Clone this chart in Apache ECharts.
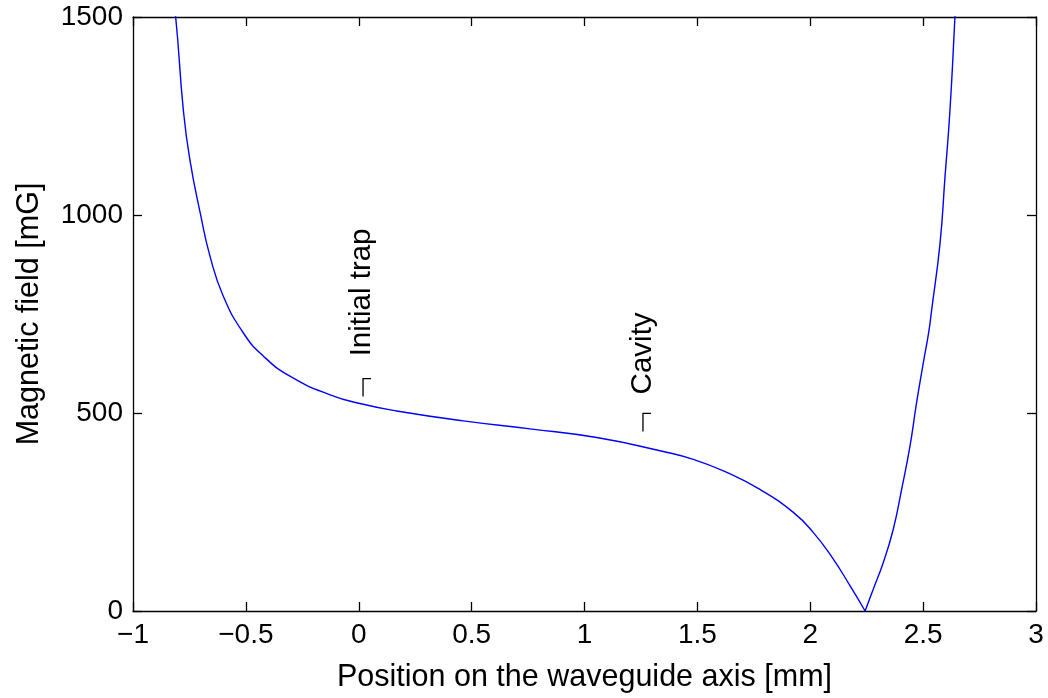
<!DOCTYPE html>
<html>
<head>
<meta charset="utf-8">
<script src="https://cdn.jsdelivr.net/npm/echarts@6/dist/echarts.min.js"></script>
<style>
html,body{margin:0;padding:0;background:#fff;}
#c{width:1048px;height:698px;}
</style>
</head>
<body>
<div id="c"></div>
<script>
// Left branch of |B| (position in mm, field in mG), down to the zero crossing
var leftX = [-0.83, -0.811, -0.777, -0.748, -0.700, -0.659, -0.600, -0.511, -0.423, -0.305, -0.127, 0.020, 0.168, 0.463, 0.759, 1.054, 1.340, 1.482, 1.630, 1.777, 1.925, 2.014, 2.102, 2.176, 2.243];
var leftY = [1570, 1500, 1265, 1139, 999, 896, 795, 702, 644, 593, 546, 522, 505, 480, 460, 438, 404, 383, 350, 307, 249, 198, 131, 64, 0];
// Right branch from the zero crossing upward
var rightX = [2.243, 2.279, 2.324, 2.368, 2.405, 2.442, 2.471, 2.501, 2.525, 2.538, 2.575, 2.597, 2.619, 2.641, 2.650];
var rightY = [0, 55, 123, 207, 308, 417, 526, 627, 705, 761, 929, 1097, 1265, 1500, 1600];
// Annotations (rotated text, baseline start point in data coords)
var annoText = ['Initial trap', 'Cavity'];
var annoX = [0.014, 1.259];
var annoY = [643, 547];
// Corner markers (top-left corner of the bracket, in data coords)
var markX = [0.019, 1.259];
var markY = [587, 499];
// Axis ticks
var xTicks = [-1, -0.5, 0, 0.5, 1, 1.5, 2, 2.5, 3];
var yTicks = [0, 500, 1000, 1500];

function zip(a, b) { return a.map(function (v, i) { return [v, b[i]]; }); }

var FONT = 'Liberation Sans, Arial, sans-serif';
var chart = echarts.init(document.getElementById('c'), null, { renderer: 'canvas' });
var axisLine = { show: true, onZero: false, lineStyle: { color: '#000', width: 1.3 } };
var axisTick = { show: true, inside: true, length: 9, lineStyle: { color: '#000', width: 1.3 } };

var option = {
  backgroundColor: '#fff',
  animation: false,
  grid: { left: 133, right: 12, top: 17, bottom: 86, containLabel: false },
  xAxis: [{
    type: 'value', min: xTicks[0], max: xTicks[xTicks.length - 1], interval: 0.5,
    position: 'bottom',
    axisLine: axisLine, axisTick: axisTick, splitLine: { show: false },
    axisLabel: { color: '#000', fontSize: 28, fontFamily: FONT, margin: 10,
      formatter: function (v) { return String(v).replace('-', '\u2212'); } },
    name: 'Position on the waveguide axis [mm]', nameLocation: 'middle', nameGap: 51,
    nameTextStyle: { color: '#000', fontSize: 30.5, fontFamily: FONT }
  }, {
    type: 'value', min: xTicks[0], max: xTicks[xTicks.length - 1], interval: 0.5,
    position: 'top',
    axisLine: axisLine, axisTick: axisTick, splitLine: { show: false },
    axisLabel: { show: false }
  }],
  yAxis: [{
    type: 'value', min: yTicks[0], max: yTicks[yTicks.length - 1], interval: 500,
    position: 'left',
    axisLine: axisLine, axisTick: axisTick, splitLine: { show: false },
    axisLabel: { color: '#000', fontSize: 28, fontFamily: FONT, margin: 10,
      formatter: function (v) { return String(v); } },
    name: 'Magnetic field [mG]', nameLocation: 'middle', nameGap: 88,
    nameTextStyle: { color: '#000', fontSize: 30.5, fontFamily: FONT }
  }, {
    type: 'value', min: yTicks[0], max: yTicks[yTicks.length - 1], interval: 500,
    position: 'right',
    axisLine: axisLine, axisTick: axisTick, splitLine: { show: false },
    axisLabel: { show: false }
  }],
  series: [{
    type: 'line', data: zip(leftX, leftY), smooth: 0.5, showSymbol: false, clip: true,
    lineStyle: { color: '#0000ff', width: 1.4 }, xAxisIndex: 0, yAxisIndex: 0
  }, {
    type: 'line', data: zip(rightX, rightY), smooth: 0.5, showSymbol: false, clip: true,
    lineStyle: { color: '#0000ff', width: 1.4 }, xAxisIndex: 0, yAxisIndex: 0
  }]
};
chart.setOption(option);

var g = [];
annoText.forEach(function (t, i) {
  var p = chart.convertToPixel({ gridIndex: 0 }, [annoX[i], annoY[i]]);
  g.push({ type: 'text', x: p[0], y: p[1], rotation: Math.PI / 2,
    style: { text: t, fill: '#000', fontSize: 29.5, fontFamily: FONT, align: 'left', verticalAlign: 'middle' } });
});
markX.forEach(function (mx, i) {
  var p = chart.convertToPixel({ gridIndex: 0 }, [mx, markY[i]]);
  g.push({ type: 'polyline', shape: { points: [[p[0] + 8, p[1]], [p[0], p[1]], [p[0], p[1] + 18]] },
    style: { stroke: '#000', lineWidth: 1.3, fill: null } });
});
chart.setOption({ graphic: g });
</script>
</body>
</html>
